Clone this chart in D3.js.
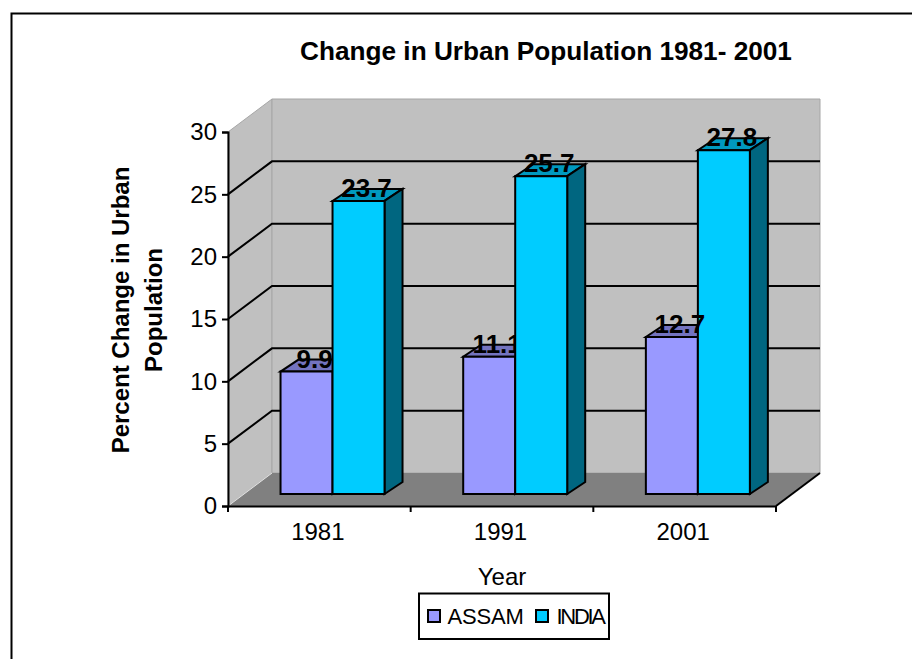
<!DOCTYPE html>
<html>
<head>
<meta charset="utf-8">
<script src="https://cdnjs.cloudflare.com/ajax/libs/d3/7.8.5/d3.min.js"></script>
<style>
  html, body { margin: 0; padding: 0; background: #fff; }
  svg { display: block; }
  text { font-family: "Liberation Sans", Arial, sans-serif; fill: #000; }
</style>
</head>
<body>
<div id="chart"></div>
<script>
const width = 912
const height = 659

const years = ["1981", "1991", "2001"]
const seriesNames = ["ASSAM", "INDIA"]
const assam = [9.9, 11.1, 12.7]
const india = [23.7, 25.7, 27.8]
const yTicks = [0, 5, 10, 15, 20, 25, 30]

const frontColors = ["#9999ff", "#00ccff"]
const topColors = ["#7373bf", "#0099bf"]
const sideColors = ["#4d4d80", "#006680"]

// depth of the 3d box and how far the bars sit inside it
const depth = { x: 44, y: -33 }
const barOffset = { x: 13.2, y: -12 }
const barDepth = { x: 18, y: -12 }

const x = d3.scaleBand().domain(years).range([228, 776])
const y = d3.scaleLinear().domain([0, 30]).range([506, 132])
const barY = d3.scaleLinear().domain([0, 30]).range([506 + barOffset.y, 123])
const barX = d3.scaleBand().domain(seriesNames).range([0, 104])

const svg = d3.select("div#chart").append("svg").attr("width", width).attr("height", height)

// outer frame, only left and top show in the picture
svg.append("path")
    .attr("d", "M11.5,659V13.5H912")
    .attr("fill", "none").attr("stroke", "#000").attr("stroke-width", 2)

const poly = (pts, fill, stroke, sw) => svg.append("polygon")
    .attr("points", pts.map(p => p.join(",")).join(" "))
    .attr("fill", fill).attr("stroke", stroke || "none").attr("stroke-width", sw || 0)

const x0 = x.range()[0], x1 = x.range()[1]
const yBase = y(0), yTop = y(30)

// walls and floor
poly([[x0, yBase], [x0 + depth.x, yBase + depth.y], [x0 + depth.x, yTop + depth.y], [x0, yTop]], "#c0c0c0", "#a6a6a6", 1)
poly([[x0 + depth.x, yBase + depth.y], [x1 + depth.x, yBase + depth.y], [x1 + depth.x, yTop + depth.y], [x0 + depth.x, yTop + depth.y]], "#c0c0c0", "#a6a6a6", 1)
poly([[x0, yBase], [x1, yBase], [x1 + depth.x, yBase + depth.y], [x0 + depth.x, yBase + depth.y]], "#808080")
svg.append("line")
    .attr("x1", x0).attr("y1", yBase).attr("x2", x0 + depth.x).attr("y2", yBase + depth.y)
    .attr("stroke", "#e4e4e4").attr("stroke-width", 1)

// gridlines, running along the side wall then the back wall
svg.append("g").selectAll("path").data(yTicks.slice(1, -1)).enter().append("path")
    .attr("d", d => `M${x0},${y(d)}L${x0 + depth.x},${y(d) + depth.y}H${x1 + depth.x}`)
    .attr("fill", "none").attr("stroke", "#000").attr("stroke-width", 2)

// floor edge on the right
svg.append("line")
    .attr("x1", x1).attr("y1", yBase).attr("x2", x1 + depth.x).attr("y2", yBase + depth.y)
    .attr("stroke", "#000").attr("stroke-width", 2)

const barLeft = (year, s) => x(year) + x.bandwidth() / 2 + barOffset.x - barX.bandwidth() + barX(seriesNames[s])

const drawBar = (year, v, s) => {
    const left = barLeft(year, s)
    const right = left + barX.bandwidth()
    const top = barY(v), bottom = barY(0)
    const sw = 2
    poly([[left, top], [right, top], [right + barDepth.x, top + barDepth.y], [left + barDepth.x, top + barDepth.y]], topColors[s], "#000", sw)
    poly([[right, top], [right + barDepth.x, top + barDepth.y], [right + barDepth.x, bottom + barDepth.y], [right, bottom]], sideColors[s], "#000", sw)
    poly([[left, top], [right, top], [right, bottom], [left, bottom]], frontColors[s], "#000", sw)
}

const drawLabel = (year, v, s) => {
    svg.append("text")
        .attr("x", barLeft(year, s) + barX.bandwidth() / 2 + 8)
        .attr("y", barY(v) - 4)
        .attr("text-anchor", "middle")
        .attr("font-size", 26).attr("font-weight", "bold")
        .text(v.toFixed(1))
}

// the india bar hides the end of the first two assam labels, 2001 stays on top
years.forEach((year, i) => {
    drawBar(year, assam[i], 0)
    if (i < 2) drawLabel(year, assam[i], 0)
    drawBar(year, india[i], 1)
})
drawLabel(years[2], assam[2], 0)
years.forEach((year, i) => drawLabel(year, india[i], 1))

// axes
const yAxis = d3.axisLeft(y).tickValues(yTicks).tickSize(6).tickPadding(5)
const yAxisGroup = svg.append("g").attr("transform", `translate(${x0},0)`).call(yAxis)
yAxisGroup.selectAll("text").attr("font-size", 24).attr("font-family", "Liberation Sans")
yAxisGroup.selectAll("line").attr("stroke", "#000").attr("stroke-width", 2)
yAxisGroup.select(".domain").attr("stroke", "#000").attr("stroke-width", 2)

const xAxis = d3.axisBottom(x).tickSize(0).tickPadding(17)
const xAxisGroup = svg.append("g").attr("transform", `translate(-1.5,${yBase})`).call(xAxis)
xAxisGroup.selectAll("text").attr("font-size", 24).attr("font-family", "Liberation Sans")
xAxisGroup.select(".domain").attr("stroke", "#000").attr("stroke-width", 2).attr("transform", "translate(1.5,0)")
xAxisGroup.selectAll("line.sep").data(d3.range(years.length + 1)).enter().append("line")
    .attr("class", "sep")
    .attr("x1", d => x0 + 1.5 + d * x.step()).attr("x2", d => x0 + 1.5 + d * x.step())
    .attr("y1", 0).attr("y2", 6)
    .attr("stroke", "#000").attr("stroke-width", 2)

// titles
svg.append("text").attr("x", 546).attr("y", 60).attr("text-anchor", "middle")
    .attr("font-size", 26.2).attr("font-weight", "bold").text("Change in Urban Population 1981- 2001")
svg.append("text").attr("x", 502).attr("y", 585).attr("text-anchor", "middle")
    .attr("font-size", 24).text("Year")
const yTitle = svg.append("text").attr("transform", "translate(129,310) rotate(-90)")
    .attr("text-anchor", "middle").attr("font-size", 24).attr("font-weight", "bold")
yTitle.append("tspan").attr("x", 0).attr("y", 0).text("Percent Change in Urban")
yTitle.append("tspan").attr("x", 0).attr("y", 33).text("Population")

// legend
const legend = svg.append("g")
legend.append("rect").attr("x", 419).attr("y", 593.5).attr("width", 190).attr("height", 45.5)
    .attr("fill", "#fff").attr("stroke", "#000").attr("stroke-width", 2)
const legendX = [428, 536]
const legendTextX = [447.5, 556.5]
const legendSpacing = [-0.2, -2.3]
seriesNames.forEach((name, i) => {
    legend.append("rect").attr("x", legendX[i]).attr("y", 610).attr("width", 12).attr("height", 12)
        .attr("fill", frontColors[i]).attr("stroke", "#000").attr("stroke-width", 2)
    legend.append("text").attr("x", legendTextX[i]).attr("y", 624)
        .attr("font-size", 22).attr("letter-spacing", legendSpacing[i]).text(name)
})
</script>
</body>
</html>
